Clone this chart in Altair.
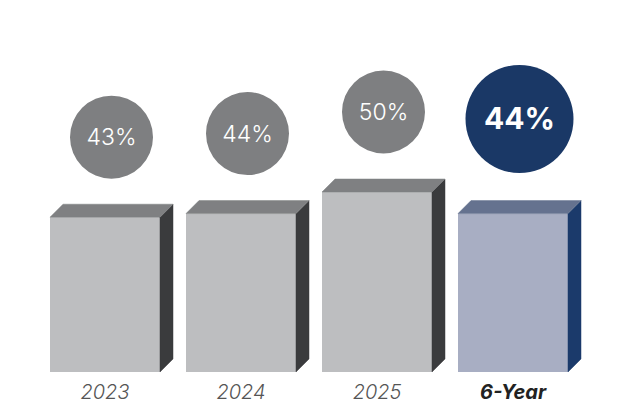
import altair as alt
import pandas as pd

categories = ["2023", "2024", "2025", "6-Year"]
values = [43, 44, 50, 44]
pct_labels = ["43%", "44%", "50%", "44%"]
highlight = [False, False, False, True]

# style palettes (front, top, side, circle)
GRAY = {"front": "#bdbec0", "top": "#7f8082", "side": "#3a3b3d", "circle": "#7e7f81"}
BLUE = {"front": "#a8aec3", "top": "#65728f", "side": "#1b3a6b", "circle": "#1a3866"}

FONT = "Inter"
W, H = 620, 396
PX_X = 136.0          # pixels per category step
PX_Y = 3.6            # pixels per percentage point
HW = 55 / PX_X        # half width of front face
DX = 13 / PX_X        # depth offset (x)
DY = 13 / PX_Y        # depth offset (y)
x_dom = [-97 / PX_X, -97 / PX_X + W / PX_X]
y_dom = [-32 / PX_Y, -32 / PX_Y + H / PX_Y]

front, side, top, circ = [], [], [], []
for i, (c, v, lab, h) in enumerate(zip(categories, values, pct_labels, highlight)):
    pal = BLUE if h else GRAY
    front.append({"cat": c, "x": i - HW, "x2": i + HW, "y": 0, "y2": v, "col": pal["front"]})
    side.append({"cat": c, "x": i + HW, "y": v, "y2": 0, "col": pal["side"]})
    side.append({"cat": c, "x": i + HW + DX, "y": v + DY, "y2": DY, "col": pal["side"]})
    top.append({"cat": c, "y": v, "x": i - HW, "x2": i + HW, "col": pal["top"]})
    top.append({"cat": c, "y": v + DY, "x": i - HW + DX, "x2": i + HW + DX, "col": pal["top"]})
    off = (94.6 if h else 80) / PX_Y
    circ.append({"cat": c, "x": i + DX / 2, "xl": i, "y": v + off, "label": lab,
                 "size": 11664 if h else 6889, "col": pal["circle"], "hl": h})

front_df = pd.DataFrame(front)
side_df = pd.DataFrame(side)
top_df = pd.DataFrame(top)
circ_df = pd.DataFrame(circ)

xs = alt.Scale(domain=x_dom, nice=False, zero=False)
ys = alt.Scale(domain=y_dom, nice=False, zero=False)

front_l = alt.Chart(front_df).mark_rect().encode(
    x=alt.X("x:Q", scale=xs, axis=None), x2="x2",
    y=alt.Y("y:Q", scale=ys, axis=None), y2="y2",
    fill=alt.Fill("col:N", scale=None),
)
side_l = alt.Chart(side_df).mark_area(strokeWidth=0.5).encode(
    x=alt.X("x:Q", scale=xs, axis=None),
    y=alt.Y("y:Q", scale=ys, axis=None), y2="y2",
    fill=alt.Fill("col:N", scale=None),
    stroke=alt.Stroke("col:N", scale=None),
    detail="cat:N",
)
top_l = alt.Chart(top_df).mark_area(orient="horizontal", strokeWidth=0.5).encode(
    y=alt.Y("y:Q", scale=ys, axis=None),
    x=alt.X("x:Q", scale=xs, axis=None), x2="x2",
    fill=alt.Fill("col:N", scale=None),
    stroke=alt.Stroke("col:N", scale=None),
    detail="cat:N",
)
circ_l = alt.Chart(circ_df).mark_point(shape="circle", filled=True, opacity=1).encode(
    x=alt.X("x:Q", scale=xs, axis=None),
    y=alt.Y("y:Q", scale=ys, axis=None),
    size=alt.Size("size:Q", scale=None),
    fill=alt.Fill("col:N", scale=None),
)
txt_gray = alt.Chart(circ_df).transform_filter("!datum.hl").mark_text(
    font=FONT, fontWeight=300, fontSize=23, color="white", baseline="middle", dy=1
).encode(x=alt.X("x:Q", scale=xs, axis=None), y=alt.Y("y:Q", scale=ys, axis=None), text="label:N")
txt_hl = alt.Chart(circ_df).transform_filter("datum.hl").mark_text(
    font=FONT, fontWeight="bold", fontSize=30, color="white", baseline="middle", dy=1
).encode(x=alt.X("x:Q", scale=xs, axis=None), y=alt.Y("y:Q", scale=ys, axis=None), text="label:N")
lab_gray = alt.Chart(circ_df).transform_filter("!datum.hl").mark_text(
    font=FONT, fontStyle="italic", fontWeight=300, fontSize=20, color="#555555", baseline="middle"
).encode(x=alt.X("xl:Q", scale=xs, axis=None), y=alt.value(385), text="cat:N")
lab_hl = alt.Chart(circ_df).transform_filter("datum.hl").mark_text(
    font=FONT, fontStyle="italic", fontWeight="bold", fontSize=20, color="#222222", baseline="middle"
).encode(x=alt.X("xl:Q", scale=xs, axis=None), y=alt.value(385), text="cat:N")

chart = alt.layer(front_l, side_l, top_l, circ_l, txt_gray, txt_hl, lab_gray, lab_hl).properties(
    width=W, height=H, padding=0, background="white"
).configure_view(stroke=None)

chart.save("out.html", embed_options={"renderer": "svg", "actions": False})
